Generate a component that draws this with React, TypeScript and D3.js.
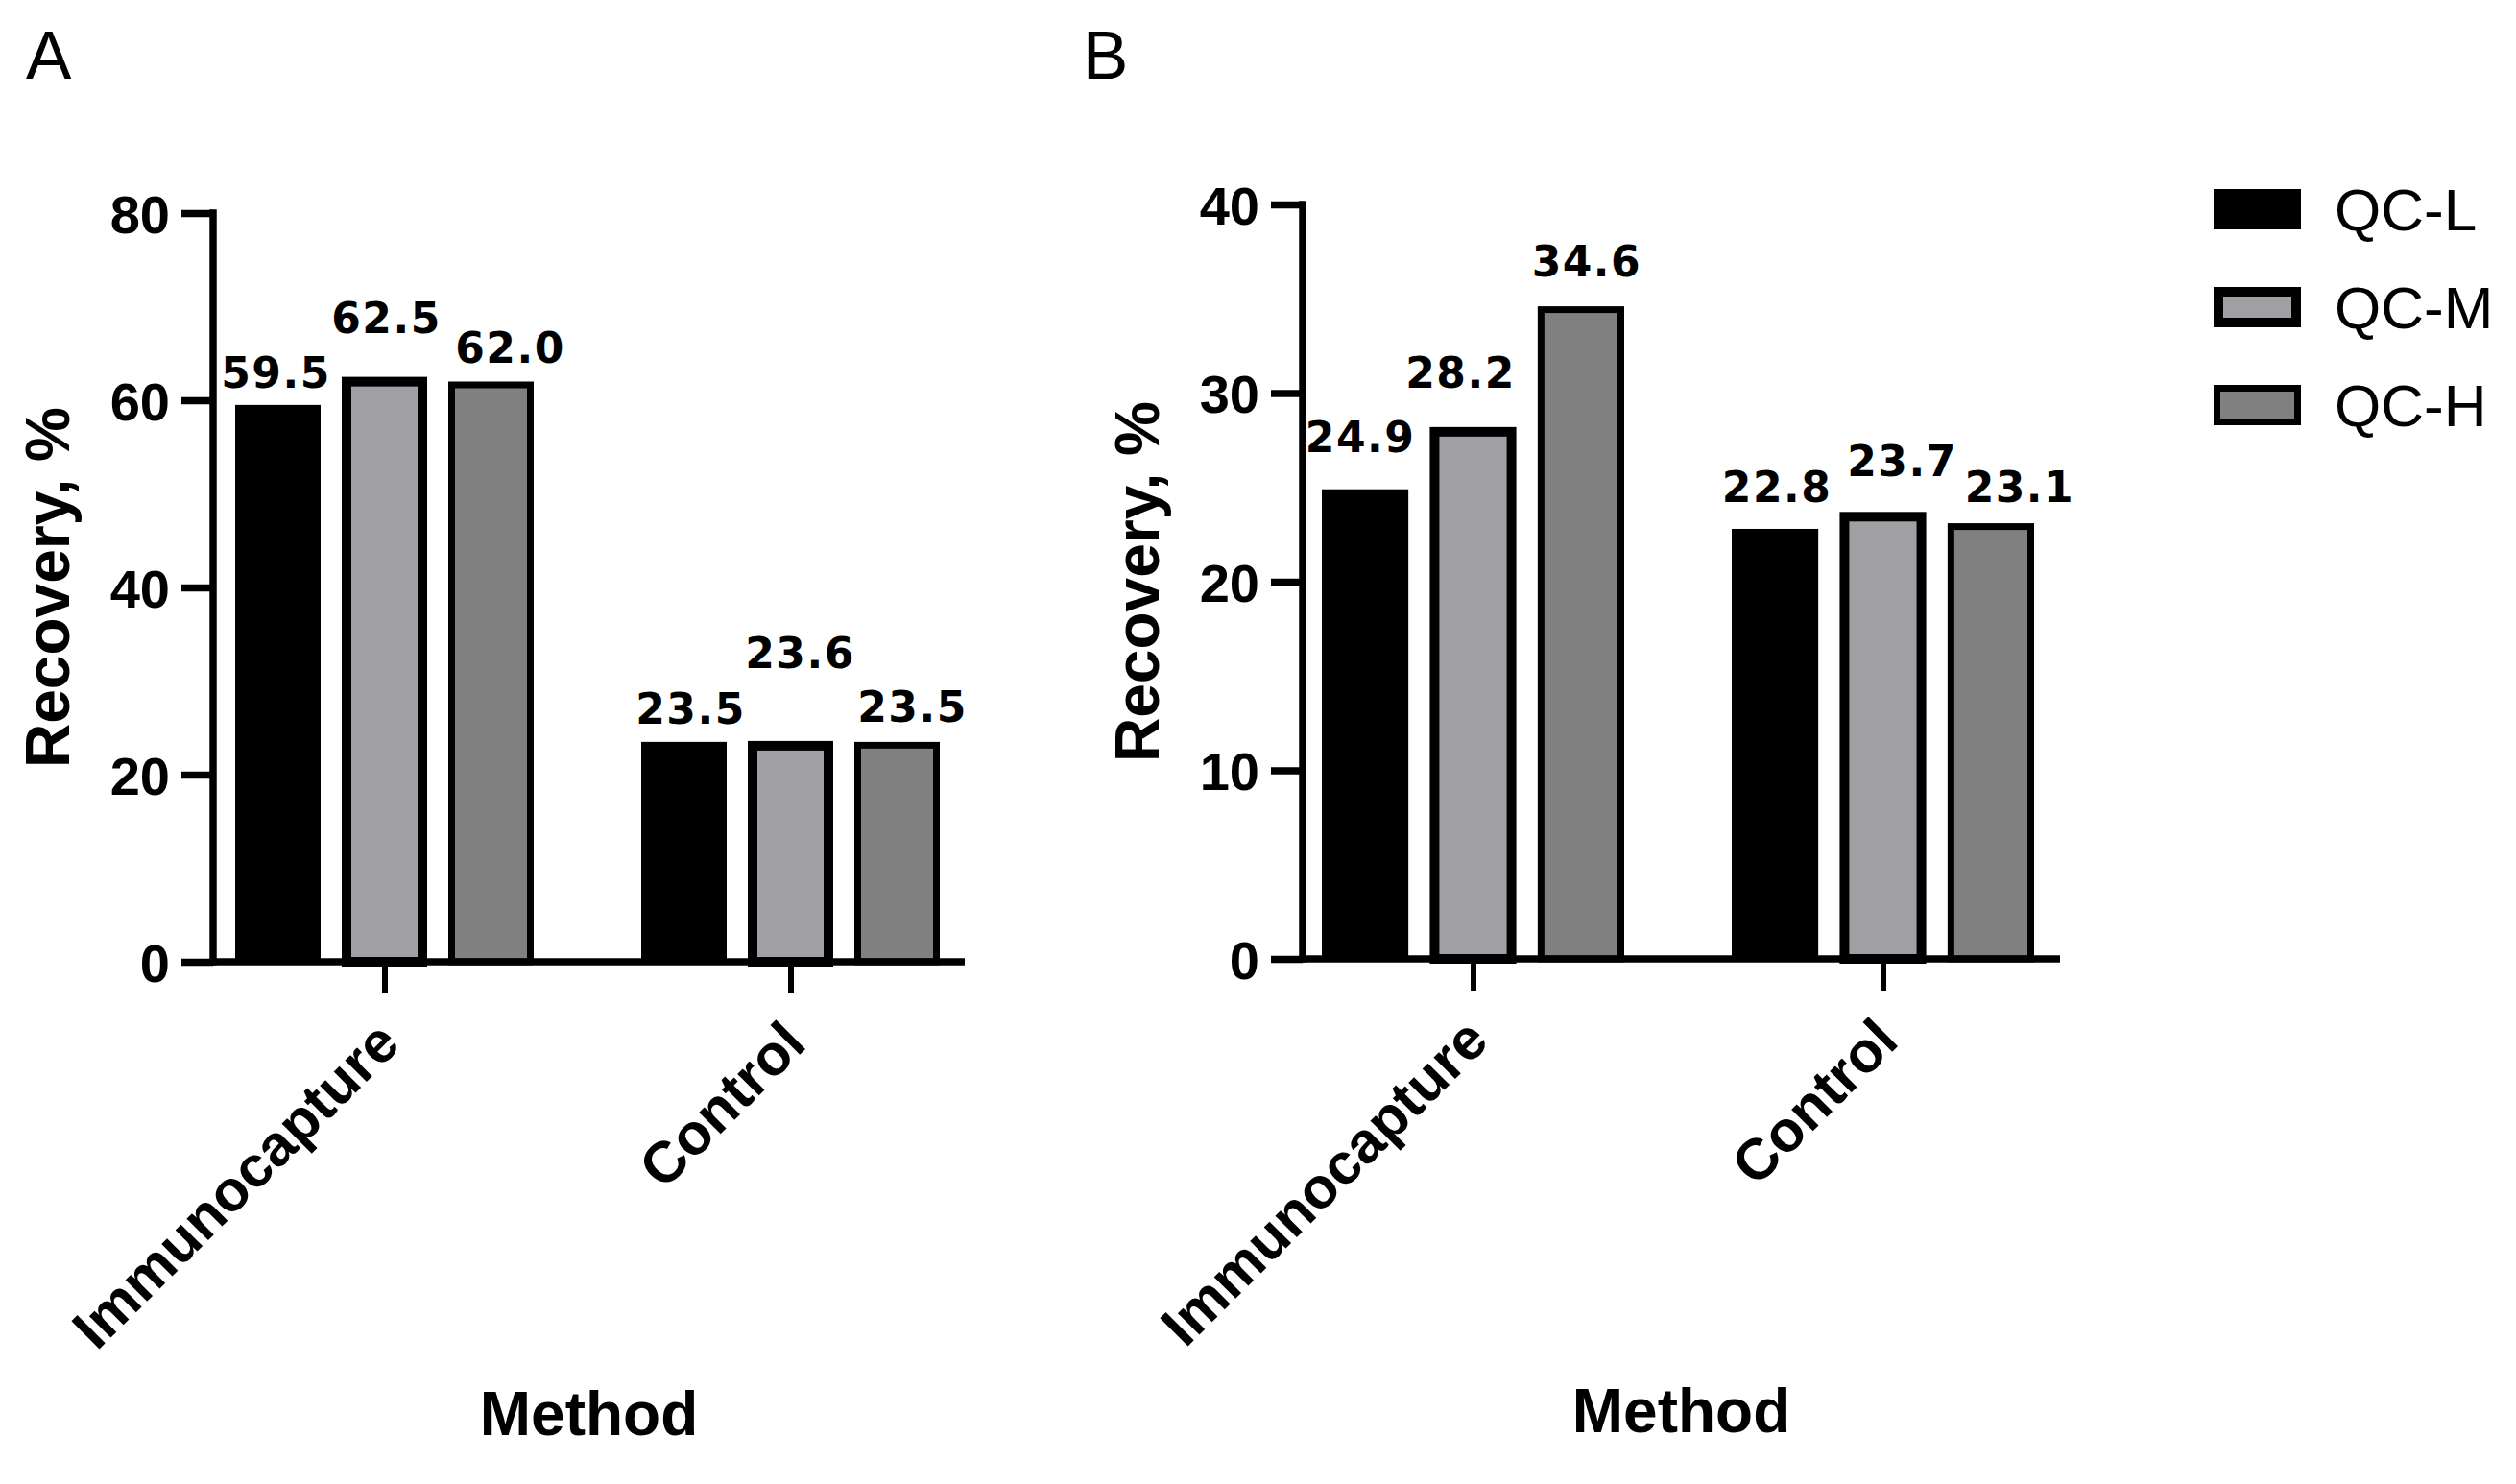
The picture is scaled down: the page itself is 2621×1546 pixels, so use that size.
import React, { useEffect, useRef } from "react";
import * as d3 from "d3";

// ---- data ----
const categories = ["Immunocapture", "Control"];
const seriesNames = ["QC-L", "QC-M", "QC-H"];

const panelA_QCL = [59.5, 23.5];
const panelA_QCM = [62.5, 23.6];
const panelA_QCH = [62.0, 23.5];

const panelB_QCL = [24.9, 22.8];
const panelB_QCM = [28.2, 23.7];
const panelB_QCH = [34.6, 23.1];

const yTicksA = [0, 20, 40, 60, 80];
const yTicksB = [0, 10, 20, 30, 40];

const yTitle = "Recovery, %";
const xTitle = "Method";

// ---- styles ----
const fills = ["#000000", "#A0A0A4", "#808080"];
const strokeW = [0, 10, 7];
const FONT = "'Liberation Sans', Arial, Helvetica, sans-serif";
const VFONT = "'DejaVu Sans', Verdana, sans-serif";

// label nudges (px) per [category][series]: [dx from bar centre, dy from bar top]
const nudgeA = [
  [[-2, -18], [2, -46], [20, -20]],
  [[7, -19], [10, -76], [16, -21]],
];
const nudgeB = [
  [[-5, -39], [-13, -41], [6, -31]],
  [[2, -28], [20, -37], [30, -22]],
];

type Panel = {
  letter: string;
  letterX: number;
  axisX: number;
  axisEnd: number;
  y0: number;
  yTop: number;
  domainMax: number;
  ticks: number[];
  groupRange: [number, number];
  barSpan: number;
  series: number[][];
  nudge: number[][][];
};

const panels: Panel[] = [
  {
    letter: "A",
    letterX: 27,
    axisX: 222,
    axisEnd: 1005,
    y0: 1002,
    yTop: 222,
    domainMax: 80,
    ticks: yTicksA,
    groupRange: [400.5, 823.5],
    barSpan: 311,
    series: [panelA_QCL, panelA_QCM, panelA_QCH],
    nudge: nudgeA,
  },
  {
    letter: "B",
    letterX: 1128,
    axisX: 1357,
    axisEnd: 2146,
    y0: 999,
    yTop: 213,
    domainMax: 40,
    ticks: yTicksB,
    groupRange: [1534.5, 1961.5],
    barSpan: 315,
    series: [panelB_QCL, panelB_QCM, panelB_QCH],
    nudge: nudgeB,
  },
];

export default function App() {
  const ref = useRef<SVGSVGElement | null>(null);

  useEffect(() => {
    const svg = d3.select(ref.current);
    svg.selectAll("*").remove();
    const fmt = d3.format(".1f");
    const AXW = 7.5;
    const TICK = 33;

    panels.forEach((p) => {
      const g = svg.append("g");
      const y = d3.scaleLinear().domain([0, p.domainMax]).range([p.y0, p.yTop]);
      const xg = d3.scalePoint<string>().domain(categories).range(p.groupRange);
      const xb = d3
        .scaleBand<string>()
        .domain(seriesNames)
        .range([-p.barSpan / 2, p.barSpan / 2])
        .paddingInner(22 / 111)
        .paddingOuter(0);

      // panel letter
      g.append("text")
        .attr("x", p.letterX)
        .attr("y", 82)
        .attr("font-family", FONT)
        .attr("font-size", 71)
        .attr("fill", "#000")
        .text(p.letter);

      // bars
      categories.forEach((cat, ci) => {
        seriesNames.forEach((s, si) => {
          const v = p.series[si][ci];
          const sw = strokeW[si];
          const left = (xg(cat) as number) + (xb(s) as number);
          const w = xb.bandwidth();
          const top = y(v);
          g.append("rect")
            .attr("x", left + sw / 2)
            .attr("y", top + sw / 2)
            .attr("width", w - sw)
            .attr("height", p.y0 - top - sw / 2)
            .attr("fill", fills[si])
            .attr("stroke", sw > 0 ? "#000" : "none")
            .attr("stroke-width", sw);
          const [dx, dy] = p.nudge[ci][si];
          g.append("text")
            .attr("x", left + w / 2 + dx)
            .attr("y", top + dy)
            .attr("text-anchor", "middle")
            .attr("font-family", VFONT)
            .attr("font-weight", "bold")
            .attr("font-size", 44)
            .attr("letter-spacing", 1.5)
            .attr("fill", "#000")
            .text(fmt(v));
        });
      });

      // y axis
      const ya = g
        .append("g")
        .attr("transform", `translate(${p.axisX},0)`)
        .call(
          d3
            .axisLeft(y)
            .tickValues(p.ticks)
            .tickSize(TICK)
            .tickPadding(12)
            .tickFormat(d3.format("d") as any)
        );
      ya.select(".domain").remove();
      ya.selectAll(".tick line").attr("stroke", "#000").attr("stroke-width", AXW);
      ya.selectAll(".tick text")
        .attr("font-family", FONT)
        .attr("font-weight", "bold")
        .attr("font-size", 56)
        .attr("fill", "#000")
        .attr("dy", "0.36em");
      g.append("line")
        .attr("x1", p.axisX)
        .attr("x2", p.axisX)
        .attr("y1", p.yTop - AXW / 2)
        .attr("y2", p.y0 + AXW / 2)
        .attr("stroke", "#000")
        .attr("stroke-width", AXW);

      // x axis
      const xa = g
        .append("g")
        .attr("transform", `translate(0,${p.y0})`)
        .call(d3.axisBottom(xg).tickSize(TICK));
      xa.select(".domain").remove();
      xa.selectAll(".tick line").attr("stroke", "#000").attr("stroke-width", 6);
      xa.selectAll(".tick text")
        .attr("x", 0)
        .attr("y", 0)
        .attr("dy", 0)
        .attr("transform", "translate(18,88) rotate(-45)")
        .attr("text-anchor", "end")
        .attr("font-family", FONT)
        .attr("font-weight", "bold")
        .attr("font-size", 60)
        .attr("fill", "#000");
      g.append("line")
        .attr("x1", p.axisX - AXW / 2)
        .attr("x2", p.axisEnd)
        .attr("y1", p.y0)
        .attr("y2", p.y0)
        .attr("stroke", "#000")
        .attr("stroke-width", AXW);

      // axis titles
      const yMid = (p.y0 + p.yTop) / 2;
      g.append("text")
        .attr("transform", `translate(${p.axisX - 150},${yMid}) rotate(-90)`)
        .attr("text-anchor", "middle")
        .attr("font-family", FONT)
        .attr("font-weight", "bold")
        .attr("font-size", 64)
        .attr("fill", "#000")
        .text(yTitle);
      g.append("text")
        .attr("x", (p.axisX + p.axisEnd) / 2)
        .attr("y", p.y0 + 493)
        .attr("text-anchor", "middle")
        .attr("font-family", FONT)
        .attr("font-weight", "bold")
        .attr("font-size", 64)
        .attr("fill", "#000")
        .text(xTitle);
    });

    // legend
    const lg = svg.append("g").attr("transform", "translate(2306,197)");
    seriesNames.forEach((s, i) => {
      const sw = strokeW[i];
      const yy = i * 102;
      lg.append("rect")
        .attr("x", sw / 2)
        .attr("y", yy + sw / 2)
        .attr("width", 91 - sw)
        .attr("height", 42 - sw)
        .attr("fill", fills[i])
        .attr("stroke", sw > 0 ? "#000" : "none")
        .attr("stroke-width", sw)
        .attr("stroke-linejoin", "miter");
      lg.append("text")
        .attr("x", 126)
        .attr("y", yy + 43)
        .attr("font-family", FONT)
        .attr("font-size", 62)
        .attr("fill", "#000")
        .text(s);
    });
  }, []);

  return (
    <svg
      ref={ref}
      width={2621}
      height={1546}
      viewBox="0 0 2621 1546"
      style={{ position: "absolute", left: 0, top: 0, background: "#fff" }}
    />
  );
}
